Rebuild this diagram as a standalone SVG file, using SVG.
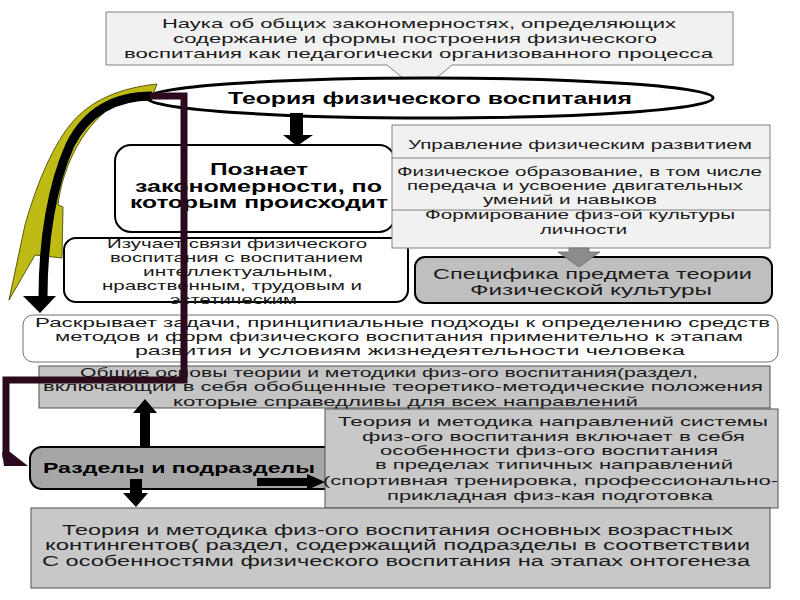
<svg xmlns="http://www.w3.org/2000/svg" width="800" height="600" viewBox="0 0 800 600">
<style>
text{font-family:"Liberation Sans",Arial,sans-serif;fill:#1a1a1a}
.t12{font-size:12px}
.t13{font-size:13px}
.t14{font-size:14px}
.t15{font-size:15px}
.b{font-weight:bold;fill:#000}
.light{fill:#f1f1f1;stroke:#808080;stroke-width:1}
.gray{fill:#c4c4c4;stroke:#505050;stroke-width:1}
.wr{fill:#fff;stroke:#000;stroke-width:2}
</style>
<rect width="800" height="600" fill="#fff"/>

<g id="nauka">
<path class="light" d="M106 12 H733 V65 H452 L420 92 L387 65 H106 Z"/>
<text class="t13" x="162" y="28" textLength="514" lengthAdjust="spacingAndGlyphs">Наука об общих закономерностях, определяющих</text>
<text class="t13" x="173" y="43" textLength="484" lengthAdjust="spacingAndGlyphs">содержание и формы построения физического</text>
<text class="t13" x="124" y="58" textLength="589" lengthAdjust="spacingAndGlyphs">воспитания как педагогически организованного процесса</text>
</g>

<g id="teoria">
<ellipse cx="430" cy="98" rx="283" ry="20" fill="#fff" stroke="#000" stroke-width="3"/>
<text class="b" style="font-size:16px" x="228" y="104" textLength="404" lengthAdjust="spacingAndGlyphs">Теория физического воспитания</text>
</g>

<g id="poznaet">
<rect class="wr" x="115" y="145" width="280" height="87" rx="16"/>
<text class="b" style="font-size:16px" x="210" y="175" textLength="98" lengthAdjust="spacingAndGlyphs">Познает</text>
<text class="b" style="font-size:16px" x="135" y="192" textLength="247" lengthAdjust="spacingAndGlyphs">закономерности, по</text>
<text class="b" style="font-size:16px" x="130" y="208" textLength="258" lengthAdjust="spacingAndGlyphs">которым происходит</text>
</g>

<g id="izuchaet">
<rect class="wr" x="64" y="238" width="344" height="64" rx="12"/>
<text class="t13" x="107" y="248" textLength="260" lengthAdjust="spacingAndGlyphs">Изучает связи физического</text>
<text class="t13" x="110" y="262" textLength="253" lengthAdjust="spacingAndGlyphs">воспитания с воспитанием</text>
<text class="t13" x="143" y="276" textLength="190" lengthAdjust="spacingAndGlyphs">интеллектуальным,</text>
<text class="t13" x="102" y="290" textLength="260" lengthAdjust="spacingAndGlyphs">нравственным, трудовым и</text>
<text class="t13" x="170" y="304" textLength="127" lengthAdjust="spacingAndGlyphs">эстетическим</text>
</g>

<g id="stack">
<rect class="light" x="392" y="125" width="378" height="123"/>
<line x1="392" y1="158" x2="770" y2="158" stroke="#808080"/>
<line x1="392" y1="210" x2="770" y2="210" stroke="#808080"/>
<text class="t13" x="408" y="149" textLength="344" lengthAdjust="spacingAndGlyphs">Управление физическим развитием</text>
<text class="t13" x="397" y="176" textLength="365" lengthAdjust="spacingAndGlyphs">Физическое образование, в том числе</text>
<text class="t13" x="407" y="190" textLength="336" lengthAdjust="spacingAndGlyphs">передача и усвоение двигательных</text>
<text class="t12" x="483" y="204" textLength="174" lengthAdjust="spacingAndGlyphs">умений и навыков</text>
<text class="t12" x="425" y="219" textLength="310" lengthAdjust="spacingAndGlyphs">Формирование физ-ой культуры</text>
<text class="t13" x="540" y="234" textLength="87" lengthAdjust="spacingAndGlyphs">личности</text>
</g>

<g id="specifika">
<rect x="415" y="257" width="357" height="46" rx="10" fill="#bfbfbf" stroke="#000" stroke-width="2"/>
<text class="t15" x="433" y="279" textLength="319" lengthAdjust="spacingAndGlyphs">Специфика предмета теории</text>
<text class="t15" x="470" y="295" textLength="242" lengthAdjust="spacingAndGlyphs">Физической культуры</text>
</g>

<g id="raskryvaet">
<rect x="23" y="315" width="755" height="47" rx="10" fill="#fff" stroke="#707070" stroke-width="1"/>
<text class="t13" x="35" y="327" textLength="735" lengthAdjust="spacingAndGlyphs">Раскрывает задачи, принципиальные подходы к определению средств</text>
<text class="t13" x="55" y="341" textLength="688" lengthAdjust="spacingAndGlyphs">методов и форм физического воспитания применительно к этапам</text>
<text class="t13" x="135" y="355" textLength="550" lengthAdjust="spacingAndGlyphs">развития и условиям жизнедеятельности человека</text>
</g>

<g id="obshchie">
<rect class="gray" x="39" y="366" width="731" height="42"/>
<text class="t13" x="80" y="377" textLength="618" lengthAdjust="spacingAndGlyphs">Общие основы теории и методики физ-ого воспитания(раздел,</text>
<text class="t13" x="43" y="391" textLength="720" lengthAdjust="spacingAndGlyphs">включающии в себя обобщенные теоретико-методические положения</text>
<text class="t13" x="173" y="406" textLength="465" lengthAdjust="spacingAndGlyphs">которые справедливы для всех направлений</text>
</g>

<g id="razdely">
<rect x="30" y="447" width="310" height="42" rx="12" fill="#a6a6a6" stroke="#000" stroke-width="2"/>
<text class="b t15" x="43" y="473" textLength="272" lengthAdjust="spacingAndGlyphs">Разделы и подразделы</text>
</g>

<g id="napravlenia">
<rect x="325" y="409" width="453" height="99" fill="#c8c8c8" stroke="#505050" stroke-width="1"/>
<text class="t13" x="338" y="426" textLength="430" lengthAdjust="spacingAndGlyphs">Теория и методика направлений системы</text>
<text class="t13" x="362" y="441" textLength="383" lengthAdjust="spacingAndGlyphs">физ-ого воспитания включает в себя</text>
<text class="t13" x="380" y="455" textLength="338" lengthAdjust="spacingAndGlyphs">особенности физ-ого воспитания</text>
<text class="t13" x="375" y="469" textLength="358" lengthAdjust="spacingAndGlyphs">в пределах типичных направлений</text>
<text class="t13" x="323" y="485" textLength="455" lengthAdjust="spacingAndGlyphs">(спортивная тренировка, профессионально-</text>
<text class="t13" x="387" y="500" textLength="326" lengthAdjust="spacingAndGlyphs">прикладная физ-кая подготовка</text>
</g>

<g id="vozrast">
<rect x="31" y="508" width="739" height="80" fill="#c8c8c8" stroke="#505050" stroke-width="1"/>
<text class="t14" x="62" y="535" textLength="671" lengthAdjust="spacingAndGlyphs">Теория и методика физ-ого воспитания основных возрастных</text>
<text class="t14" x="45" y="550" textLength="705" lengthAdjust="spacingAndGlyphs">контингентов( раздел, содержащий подразделы в соответствии</text>
<text class="t14" x="42" y="566" textLength="708" lengthAdjust="spacingAndGlyphs">С особенностями физического воспитания на этапах онтогенеза</text>
</g>

<g id="connectors">
<path d="M290 113 H303 V135 H313 L297 146 L283 135 H290 Z" fill="#000"/>
<path d="M569 248 H589 V252 H600 L579 267 L558 252 H569 Z" fill="#8c8c8c" stroke="#6a6a6a" stroke-width="0.8"/>
<path d="M157 84 C120 88 90 100 70 125 C50 150 35 190 25 225 L9 300 L35 255 L62 258 L63 207 L58 205 C62 170 80 130 110 108 C125 100 140 98 152 97 Z" fill="#bdbb14" stroke="#5a5a10" stroke-width="1"/>
<path d="M152 96 C110 96 85 115 70 145 C52 185 43 240 43 297" fill="none" stroke="#000" stroke-width="9"/>
<path d="M23 296 H56 L40 313 Z" fill="#000"/>
<path d="M140 448 V413 H133 L145 399 L157 413 H150 V448 Z" fill="#000"/>
<path d="M130 479 H142 V493 H148 L136 507 L123 493 H130 Z" fill="#000"/>
<path d="M257 478 H307 V474 L325 482 L307 490 V486 H257 Z" fill="#000"/>
<path d="M150 96 H184 V380 H6 V458" fill="none" stroke="#2b0a1e" stroke-width="7"/>
<path d="M2 452 H10 L28 466 H4 Z" fill="#2b0a1e"/>
</g>
</svg>
